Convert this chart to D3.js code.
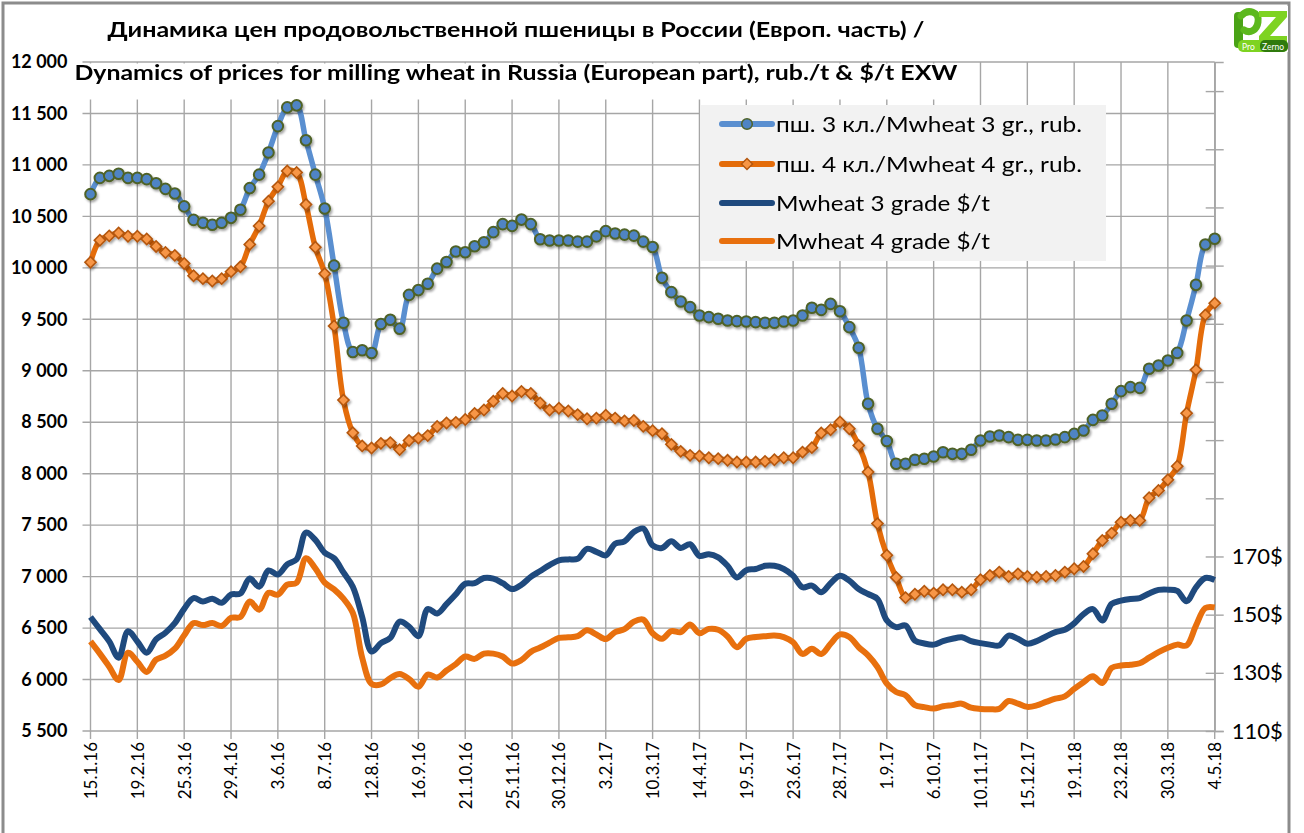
<!DOCTYPE html>
<html>
<head>
<meta charset="utf-8">
<script src="https://cdn.jsdelivr.net/npm/d3@7"></script>
<style>
  body { margin: 0; background: #fff; }
  text { font-family: Lato, "Open Sans", sans-serif; fill: #000; }
</style>
</head>
<body>
<script>
// weekly prices, 15.1.16 .. 4.5.18
var rub3 = [10716,10874,10894,10914,10874,10874,10862,10822,10767,10723,
  10597,10466,10438,10418,10438,10486,10565,10775,10906,11120,
  11377,11559,11579,11239,10906,10577,10022,9467,9182,9200,
  9172,9454,9495,9409,9737,9784,9846,9992,10057,10159,
  10152,10210,10248,10347,10425,10408,10469,10425,10278,10265,
  10265,10265,10255,10255,10306,10357,10333,10323,10313,10255,
  10203,9903,9764,9673,9618,9537,9521,9505,9489,9482,
  9479,9473,9466,9466,9479,9489,9537,9612,9592,9650,
  9579,9424,9223,8680,8437,8317,8097,8097,8136,8145,
  8167,8209,8193,8193,8232,8323,8362,8371,8355,8329,
  8329,8323,8323,8332,8355,8387,8420,8523,8566,8679,
  8802,8841,8834,9019,9051,9100,9174,9488,9835,10227,
  10282];

var rub4 = [10054,10268,10311,10339,10307,10307,10280,10208,10149,10121,
  10042,9923,9895,9872,9895,9963,10010,10228,10407,10648,
  10787,10941,10926,10616,10200,9943,9436,8715,8398,8270,
  8250,8295,8302,8234,8322,8346,8370,8459,8493,8499,
  8527,8585,8619,8704,8779,8755,8799,8779,8687,8619,
  8636,8609,8574,8534,8540,8568,8540,8513,8517,8460,
  8418,8388,8285,8217,8178,8172,8155,8146,8130,8113,
  8113,8113,8120,8136,8155,8155,8210,8253,8395,8427,
  8502,8437,8275,8016,7515,7207,6991,6796,6829,6858,
  6840,6872,6872,6849,6872,6969,7011,7044,7002,7027,
  7002,6995,7002,7011,7044,7076,7099,7222,7351,7423,
  7529,7546,7546,7766,7837,7941,8073,8588,9009,9543,
  9657];

var usd3 = [149.2,145.0,140.8,135.2,144.3,140.8,136.9,141.5,143.8,147.1,
  152.0,155.7,154.5,155.5,154.1,156.9,157.3,162.4,159.6,165.2,
  163.8,167.3,169.0,178.2,175.7,171.3,169.4,164.5,159.6,149.2,
  137.3,140.2,142.0,147.6,145.9,142.6,151.9,150.4,153.6,157.0,
  160.6,160.8,162.6,162.4,160.8,158.8,160.3,163.0,165.0,167.0,
  168.7,169.0,169.2,172.6,171.6,170.4,174.4,175.2,178.4,179.6,
  173.8,172.9,175.2,172.9,174.2,170.2,170.8,169.7,166.8,162.8,
  165.3,165.7,166.8,166.8,165.7,163.4,159.4,160.0,157.7,160.8,
  163.4,161.7,158.8,157.1,155.4,148.0,145.7,146.3,141.1,140.1,
  139.7,140.9,141.7,142.2,140.9,140.2,139.7,139.4,142.8,141.7,
  140.0,140.9,142.5,144.0,144.8,147.0,150.2,151.9,148.0,153.7,
  154.8,155.4,155.7,157.3,158.5,158.6,158.2,154.6,159.4,162.6,
  161.9];

var usd4 = [140.8,136.6,132.1,127.5,136.9,133.8,130.3,134.5,135.9,138.3,
  142.9,147.1,146.4,147.1,146.1,148.9,149.2,154.5,151.7,157.5,
  156.9,160.3,161.0,169.4,165.9,161.0,158.7,155.5,150.6,135.2,
  126.2,126.0,128.2,129.6,127.9,125.2,129.4,128.4,130.8,133.0,
  135.6,134.8,136.6,136.6,135.6,133.2,134.4,137.2,138.7,140.4,
  142.0,142.2,142.6,144.6,143.2,141.6,144.0,145.0,147.6,148.3,
  143.6,141.7,144.3,144.0,146.6,143.6,145.1,144.8,142.5,138.8,
  141.7,142.3,142.6,142.8,142.3,140.5,136.5,138.3,136.5,140.0,
  143.2,142.3,138.8,136.0,132.0,126.3,123.4,122.3,118.9,118.2,
  117.7,118.5,118.9,119.4,118.0,117.6,117.5,117.6,120.3,119.4,
  118.3,118.8,120.0,121.1,121.9,124.5,126.8,128.8,126.5,131.7,
  132.5,132.8,133.3,135.2,137.1,138.6,139.7,139.4,146.2,152.3,
  152.5];

var leftTicks = [5500,6000,6500,7000,7500,8000,8500,9000,9500,10000,10500,11000,11500,12000];
var rightTicks = [110,130,150,170,190,210,230,250,270,290,310,330];
var rightLabels = [110,130,150,170];

var titleRu = "Динамика цен продовольственной пшеницы в России (Европ. часть) /";
var titleEn = "Dynamics of prices for milling wheat in Russia (European part), rub./t & $/t EXW";
var legendNames = ["пш. 3 кл./Mwheat 3 gr., rub.", "пш. 4 кл./Mwheat 4 gr., rub.",
  "Mwheat 3 grade $/t", "Mwheat 4 grade $/t"];

var start = new Date(2016, 0, 15);
var weeks = d3.range(rub3.length).map(function(i) { return d3.timeDay.offset(start, 7 * i); });
var labelDates = weeks.filter(function(d, i) { return i % 5 === 0; });

var plot = {left: 90.5, right: 1214.7, top: 62, bottom: 731};

var x = d3.scaleTime().domain([weeks[0], weeks[weeks.length - 1]]).range([plot.left, plot.right]);
var yL = d3.scaleLinear().domain([5500, 12000]).range([plot.bottom, plot.top]);
var yR = d3.scaleLinear().domain([110, 340]).range([plot.bottom, plot.top]);

var svg = d3.select("body").append("svg")
  .attr("width", 1304)
  .attr("height", 833);

var defs = svg.append("defs");
defs.append("filter").attr("id", "sh").attr("x", "-20%").attr("y", "-20%").attr("width", "140%").attr("height", "140%")
  .append("feDropShadow").attr("dx", 1.5).attr("dy", 2).attr("stdDeviation", 1.2).attr("flood-opacity", 0.35);

// outer frame
svg.append("rect")
  .attr("x", 3).attr("y", 3).attr("width", 1286).attr("height", 850)
  .attr("fill", "none").attr("stroke", "#8c8c8c").attr("stroke-width", 3);

// grid
var grid = svg.append("g").attr("stroke", "#a6a6a6").attr("stroke-width", 1.4);
grid.selectAll(".hg").data(leftTicks).enter().append("line")
  .attr("x1", plot.left - 8).attr("x2", plot.right)
  .attr("y1", function(d) { return yL(d); }).attr("y2", function(d) { return yL(d); });
grid.selectAll(".vg").data(labelDates).enter().append("line")
  .attr("x1", function(d) { return x(d); }).attr("x2", function(d) { return x(d); })
  .attr("y1", plot.top).attr("y2", plot.bottom + 8);

// title background hides grid under 2nd title line
svg.append("rect").attr("x", 68).attr("y", 63.5).attr("width", 898).attr("height", 36).attr("fill", "#fff");

// axes
var gY = svg.append("g")
  .attr("transform", "translate(" + plot.left + ",0)")
  .call(d3.axisLeft(yL).tickValues(leftTicks).tickSize(0).tickPadding(23)
    .tickFormat(function(d) { return d3.format(",")(d).replace(",", " "); }));
gY.select(".domain").remove();
gY.selectAll("text").style("font-size", "18px").style("font-weight", "bold");

var gX = svg.append("g")
  .attr("transform", "translate(0," + plot.bottom + ")")
  .call(d3.axisBottom(x).tickValues(labelDates).tickSize(0).tickFormat(d3.timeFormat("%-d.%-m.%y")));
gX.select(".domain").remove();
gX.selectAll("text")
  .attr("transform", "rotate(-90)")
  .attr("x", -11).attr("y", 0).attr("dy", "0.35em")
  .style("text-anchor", "end")
  .style("font-size", "17px");

var gR = svg.append("g")
  .attr("transform", "translate(" + plot.right + ",0)")
  .call(d3.axisRight(yR).tickValues(rightTicks).tickSize(9).tickPadding(8)
    .tickFormat(function(d) { return rightLabels.indexOf(d) >= 0 ? d + "$" : ""; }));
gR.select(".domain").attr("stroke", "#a6a6a6").attr("stroke-width", 1.4);
gR.selectAll("line").attr("x1", -9).attr("stroke", "#a6a6a6").attr("stroke-width", 1.4);
gR.selectAll("text").style("font-size", "22px");

// lines
var smooth = d3.curveCatmullRom.alpha(0.5);
function lineFor(vals, scale) {
  return d3.line()
    .x(function(d, i) { return x(weeks[i]); })
    .y(function(d) { return scale(d); })
    .curve(smooth)(vals);
}

svg.append("path").attr("d", lineFor(usd4, yR))
  .attr("fill", "none").attr("stroke", "#e8700e").attr("stroke-width", 6).attr("stroke-linejoin", "round");
svg.append("path").attr("d", lineFor(usd3, yR))
  .attr("fill", "none").attr("stroke", "#1f4a7e").attr("stroke-width", 6).attr("stroke-linejoin", "round");

svg.append("path").attr("d", lineFor(rub4, yL))
  .attr("fill", "none").attr("stroke", "#e46c0a").attr("stroke-width", 5.5).attr("stroke-linejoin", "round");
var diamond = d3.symbol().type(d3.symbolSquare).size(62);
svg.append("g").attr("filter", "url(#sh)")
  .selectAll("path").data(rub4).enter().append("path")
    .attr("d", diamond)
    .attr("transform", function(d, i) { return "translate(" + x(weeks[i]) + "," + yL(d) + ") rotate(45)"; })
    .attr("fill", "#f79646").attr("stroke", "#b4570f").attr("stroke-width", 1.6);

svg.append("path").attr("d", lineFor(rub3, yL))
  .attr("fill", "none").attr("stroke", "#5a8fd0").attr("stroke-width", 5.5).attr("stroke-linejoin", "round");
svg.append("g").attr("filter", "url(#sh)")
  .selectAll("circle").data(rub3).enter().append("circle")
    .attr("cx", function(d, i) { return x(weeks[i]); })
    .attr("cy", function(d) { return yL(d); })
    .attr("r", 5.3)
    .attr("fill", "#4f84c4").attr("stroke", "#4f6228").attr("stroke-width", 2);

// title
svg.append("text").attr("x", 516).attr("y", 37).attr("text-anchor", "middle")
  .attr("textLength", 817).attr("lengthAdjust", "spacingAndGlyphs")
  .style("font-size", "21px").style("font-weight", "bold").text(titleRu);
svg.append("text").attr("x", 516).attr("y", 80).attr("text-anchor", "middle")
  .attr("textLength", 883).attr("lengthAdjust", "spacingAndGlyphs")
  .style("font-size", "21px").style("font-weight", "bold").text(titleEn);

// legend
var legend = svg.append("g");
legend.append("rect").attr("x", 700).attr("y", 105).attr("width", 406).attr("height", 156).attr("fill", "#f2f2f2");
var legColors = ["#5a8fd0", "#e46c0a", "#1f4a7e", "#e8700e"];
var legY = [124, 164, 203, 241];
var legW = [306, 306, 214, 214];
legendNames.forEach(function(name, k) {
  legend.append("line").attr("x1", 722).attr("x2", 772).attr("y1", legY[k]).attr("y2", legY[k])
    .attr("stroke", legColors[k]).attr("stroke-width", 6).attr("stroke-linecap", "round");
  if (k === 0) {
    legend.append("circle").attr("cx", 747).attr("cy", legY[k]).attr("r", 5.3)
      .attr("fill", "#4f84c4").attr("stroke", "#4f6228").attr("stroke-width", 1.5);
  }
  if (k === 1) {
    legend.append("path").attr("d", diamond)
      .attr("transform", "translate(747," + legY[k] + ") rotate(45)")
      .attr("fill", "#f79646").attr("stroke", "#b4570f").attr("stroke-width", 1.4);
  }
  legend.append("text").attr("x", 776).attr("y", legY[k] + 7.5)
    .attr("textLength", legW[k]).attr("lengthAdjust", "spacingAndGlyphs")
    .style("font-size", "21px").text(name);
});

// logo
var logo = svg.append("g").attr("transform", "translate(1232,6)");
logo.append("rect").attr("x", 0).attr("y", 0).attr("width", 56).attr("height", 46).attr("fill", "#fff");
logo.append("rect").attr("x", 2).attr("y", 6).attr("width", 9).attr("height", 36).attr("rx", 4).attr("fill", "#4aa316");
logo.append("path").attr("d", "M9,10 C16,2 28,6 26,16 C25,24 18,28 12,24").attr("fill", "none")
  .attr("stroke", "#5cb81d").attr("stroke-width", 7).attr("stroke-linecap", "round");
logo.append("path").attr("d", "M27,5 L55,5 L55,11 L38,30 L55,30 L55,36 L27,36 L27,30 L44,11 L27,11 Z")
  .attr("fill", "#7ed321");
logo.append("rect").attr("x", 6).attr("y", 34).attr("width", 50).attr("height", 12).attr("rx", 5).attr("fill", "#7ed321");
logo.append("rect").attr("x", 28).attr("y", 34).attr("width", 28).attr("height", 12).attr("rx", 5).attr("fill", "#2f7a0d");
logo.append("text").attr("x", 10).attr("y", 43.5).style("font-size", "8.5px").style("fill", "#fff").text("Pro");
logo.append("text").attr("x", 30).attr("y", 43.5).style("font-size", "8.5px").style("fill", "#fff").text("Zerno");
</script>
</body>
</html>
